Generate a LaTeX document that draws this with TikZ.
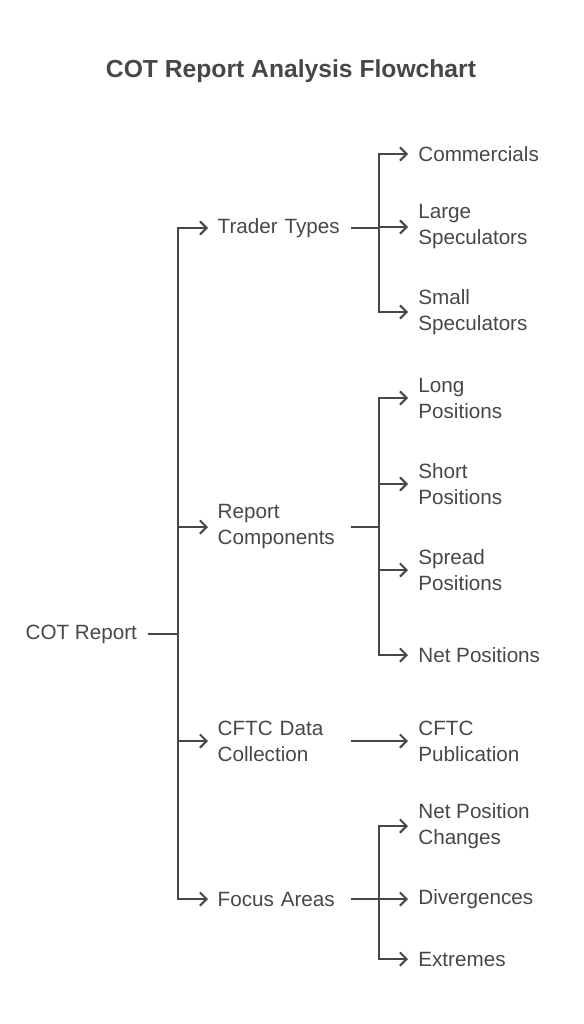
\documentclass[tikz,border=0pt]{standalone}
\usepackage{fontspec}
\setmainfont{Liberation Sans}
\usetikzlibrary{arrows.meta}
\definecolor{ink}{HTML}{474747}

\begin{document}
\begin{tikzpicture}[x = 0.75pt, y = -0.75pt, % pixel grid, y downwards
                > = {Straight Barb[length=5pt, width=10pt]}, % open arrow head
                line width = 1.5pt, draw = ink, text = ink,
                font = \fontsize{15.5}{19.5}\selectfont
            ]

            \tikzstyle{root}=[inner xsep = 7.5pt, inner ysep = 0pt, anchor = east]
            \tikzstyle{branch}=[inner xsep = 6.5pt, inner ysep = 0pt, anchor = west,
            text width = 92.5pt, align = left]
            \tikzstyle{leaf}=[inner xsep = 7pt, inner ysep = 0pt, anchor = west,
            align = left]

            \useasboundingbox (0,0) rectangle (583,1024);

            \node (title) at (291,71) {\fontsize{18.5}{22}\selectfont\bfseries COT
                Report Analysis Flowchart};

            % root and the first level
            \node (cot) [root] at (148,634) {COT Report};
            \coordinate (j0) at (178,634);
            \node (trader) [branch] at (208,228) {Trader~Types};
            \node (report) [branch] at (208,527) {Report\\Components};
            \node (cftc) [branch] at (208,741) {CFTC Data\\Collection};
            \node (focus) [branch] at (208,899) {Focus~Areas};

            % second level
            \coordinate (j1) at (379,228); \coordinate (j2) at (379,527);
            \coordinate (j4) at (379,899);
            \node (comm) [leaf] at (408,154) {Commercials};
            \node (large) [leaf] at (408,227) {Large\\Speculators};
            \node (small) [leaf] at (408,312) {Small\\Speculators};
            \node (long) [leaf] at (408,398) {Long\\Positions};
            \node (short) [leaf] at (408,484) {Short\\Positions};
            \node (spread) [leaf] at (408,570) {Spread\\Positions};
            \node (net) [leaf] at (408,655) {Net Positions};
            \node (pub) [leaf] at (408,741) {CFTC\\Publication};
            \node (change) [leaf] at (408,826) {Net Position\\Changes};
            \node (div) [leaf] at (408,899) {Divergences};
            \node (ext) [leaf] at (408,959) {Extremes};

            \path (cot) edge (j0); \path[->] (j0) edge[to path={|- (\tikztotarget)}]
            (trader); \path[->] (j0) edge[to path={|- (\tikztotarget)}] (report);
            \path[->] (j0) edge[to path={|- (\tikztotarget)}] (cftc); \path[->]
            (j0) edge[to path={|- (\tikztotarget)}] (focus);

            \path (trader) edge (j1); \path[->] (j1) edge[to path={|-
            (\tikztotarget)}] (comm); \path[->] (j1) edge[to path={|-
            (\tikztotarget)}] (large); \path[->] (j1) edge[to path={|-
            (\tikztotarget)}] (small);

            \path (report) edge (j2); \path[->] (j2) edge[to path={|-
            (\tikztotarget)}] (long); \path[->] (j2) edge[to path={|-
            (\tikztotarget)}] (short); \path[->] (j2) edge[to path={|-
            (\tikztotarget)}] (spread); \path[->] (j2) edge[to path={|-
            (\tikztotarget)}] (net);

            \path[->] (cftc) edge (pub);

            \path (focus) edge (j4); \path[->] (j4) edge[to path={|-
            (\tikztotarget)}] (change); \path[->] (j4) edge[to path={|-
            (\tikztotarget)}] (div); \path[->] (j4) edge[to path={|-
            (\tikztotarget)}] (ext);
        \end{tikzpicture}
\end{document}
